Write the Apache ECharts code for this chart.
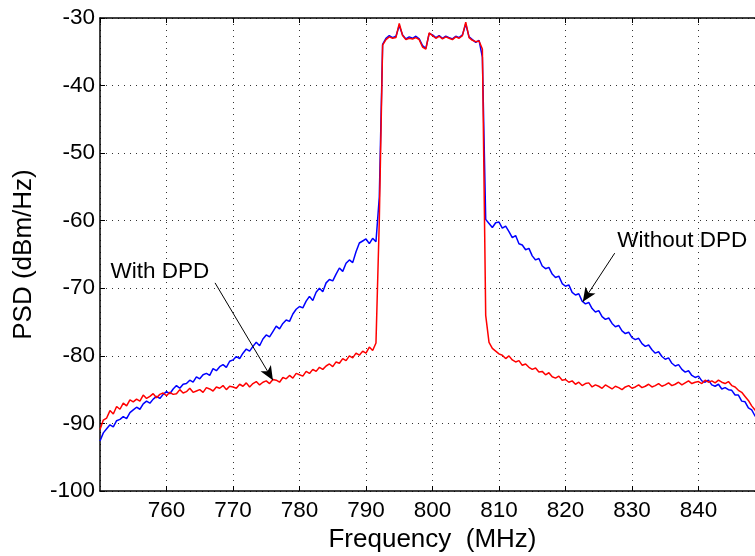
<!DOCTYPE html>
<html>
<head>
<meta charset="utf-8">
<title>PSD with and without DPD</title>
<script src="https://cdn.jsdelivr.net/npm/echarts@6/dist/echarts.min.js"></script>
<style>
  html, body { margin: 0; padding: 0; background: #fff; }
  #chart { width: 755px; height: 556px; }
</style>
</head>
<body>
<div id="chart"></div>
<script>
// Frequency sampling of the measured spectra (MHz)
const FREQ_START = 750;
const FREQ_STEP = 0.5;

// Axis ranges
const X_MIN = 750, X_MAX = 850, X_INTERVAL = 10;
const Y_MIN = -100, Y_MAX = -30, Y_INTERVAL = 10;

// PSD without digital predistortion (dBm/Hz), one value per FREQ_STEP from 750 to 850 MHz
const withoutDpd = [
  -92.6, -91.4, -90.8, -90.2, -90.5, -89.6, -89.4, -89.0, -89.3, -88.4,
  -88.0, -87.6, -87.9, -87.1, -86.7, -87.0, -86.4, -86.0, -86.3, -85.7,
  -85.3, -85.6, -84.9, -84.4, -84.8, -84.2, -84.1, -83.6, -83.9, -83.1,
  -83.4, -82.8, -82.6, -82.9, -81.9, -82.2, -81.6, -81.3, -81.7, -80.8,
  -80.6, -80.1, -80.4, -79.6, -79.0, -79.3, -78.6, -78.0, -78.5, -77.5,
  -76.9, -77.2, -76.4, -75.6, -76.0, -75.2, -74.7, -74.9, -73.8, -73.1,
  -72.7, -72.9, -71.9, -71.2, -71.8, -70.6, -70.0, -70.5, -69.2, -68.7,
  -68.9, -67.9, -67.0, -67.5, -66.3, -65.8, -66.2, -64.6, -63.3, -63.0,
  -62.7, -63.4, -62.6, -63.1, -56.5, -33.9, -33.0, -32.6, -32.9, -32.7,
  -31.1, -32.5, -33.1, -32.8, -33.0, -32.7, -33.1, -34.1, -34.5, -32.3,
  -32.5, -32.9, -32.6, -33.0, -32.7, -32.9, -33.1, -32.7, -32.9, -32.5,
  -30.9, -32.8, -33.2, -33.6, -33.3, -35.8, -59.8, -60.4, -61.0, -60.3,
  -60.2, -61.1, -60.8, -61.6, -62.5, -62.2, -63.4, -63.6, -64.3, -64.1,
  -65.2, -65.8, -65.6, -66.7, -67.1, -66.9, -67.9, -68.4, -68.2, -69.3,
  -69.7, -69.5, -70.6, -71.0, -70.8, -71.9, -72.3, -72.1, -73.0, -73.5,
  -73.3, -74.2, -74.6, -74.4, -75.2, -75.7, -75.5, -76.3, -76.7, -76.5,
  -77.3, -77.6, -77.4, -78.2, -78.6, -78.4, -79.1, -79.6, -79.4, -80.1,
  -80.5, -80.3, -81.1, -81.5, -81.3, -82.0, -82.4, -82.2, -82.9, -83.2,
  -83.0, -83.7, -83.9, -83.6, -84.3, -84.5, -84.2, -84.9, -84.7, -85.0,
  -85.1, -85.8, -85.8, -86.7, -86.8, -87.7, -88.0, -88.9, -89.2, -90.1,
  -90.6
];

// PSD with digital predistortion (dBm/Hz), same frequency sampling
const withDpd = [
  -90.9, -89.5, -89.2, -88.1, -88.6, -87.5, -87.9, -87.0, -87.4, -86.5,
  -86.8, -86.4, -86.7, -85.8, -86.3, -86.0, -85.6, -86.2, -85.7, -85.5,
  -85.9, -85.4, -85.7, -85.6, -85.0, -85.5, -85.3, -84.8, -85.4, -85.2,
  -85.0, -85.4, -84.7, -84.9, -85.2, -84.6, -84.8, -84.4, -85.0, -84.5,
  -84.6, -84.8, -84.2, -84.5, -84.0, -84.6, -84.1, -83.8, -84.3, -83.9,
  -83.7, -84.1, -83.5, -83.6, -83.9, -83.2, -83.4, -82.9, -83.3, -82.6,
  -82.8, -83.0, -82.3, -82.6, -82.0, -82.3, -81.7, -82.0, -81.5, -81.2,
  -81.6, -80.9, -81.1, -80.4, -80.7, -80.0, -80.3, -79.6, -79.9, -79.3,
  -79.6, -78.7, -79.2, -78.1, -60.0, -34.0, -33.2, -32.8, -33.0, -32.9,
  -30.8, -32.6, -33.2, -33.0, -33.1, -32.9, -33.2, -34.3, -34.6, -32.2,
  -32.6, -33.0, -32.7, -33.1, -32.8, -33.0, -33.2, -32.8, -33.0, -32.6,
  -30.6, -32.9, -33.3, -33.5, -33.4, -34.6, -74.0, -78.0, -78.9, -79.3,
  -79.7, -79.9, -80.4, -80.0, -80.6, -80.9, -80.7, -81.4, -81.2, -81.7,
  -82.0, -81.8, -82.4, -82.3, -82.8, -82.5, -83.1, -83.3, -83.0, -83.6,
  -83.5, -83.9, -83.7, -84.2, -83.9, -84.4, -84.1, -84.0, -84.6, -84.3,
  -84.5, -84.8, -84.3, -84.6, -84.9, -84.5, -84.7, -85.0, -84.6, -84.4,
  -84.8, -84.6, -84.3, -84.7, -84.5, -84.2, -84.6, -84.4, -84.1, -84.5,
  -84.3, -84.0, -84.4, -84.2, -83.9, -84.3, -84.0, -83.7, -84.1, -83.9,
  -83.8, -84.1, -83.6, -83.9, -83.7, -84.0, -83.6, -83.9, -84.1, -83.8,
  -84.4, -84.6, -85.1, -85.4, -86.0, -86.6, -87.4, -88.0, -88.9, -89.5,
  -90.2
];

// Annotation text anchors and arrows, in data coordinates [MHz, dBm/Hz]
const withDpdLabel = { text: 'With DPD', at: [751.5, -67.6] };
const withDpdArrow = [[767.3, -69.2], [776.0, -83.6]];
const withoutDpdLabel = { text: 'Without DPD', at: [827.7, -62.9] };
const withoutDpdArrow = [[827.4, -64.8], [822.6, -72.0]];

const FONT = '"Liberation Sans", Arial, Helvetica, sans-serif';
const TICK_SIZE = 22.5;
const NOTE_SIZE = 22.5;
const XNAME_SIZE = 26;
const YNAME_SIZE = 26;

function toPairs(values) {
  return values.map((v, i) => [FREQ_START + i * FREQ_STEP, v]);
}

const gridDots = { color: '#333', width: 1, type: [1, 5] };
const blackLine = { color: '#000', width: 1.5 };

const chart = echarts.init(document.getElementById('chart'), null, { renderer: 'canvas' });

function textPoint(lbl) {
  return {
    coord: lbl.at,
    symbol: 'circle',
    symbolSize: 1,
    itemStyle: { color: 'rgba(0,0,0,0)' },
    label: {
      show: true,
      position: 'right',
      distance: 0,
      formatter: lbl.text,
      color: '#000',
      fontSize: NOTE_SIZE,
      fontFamily: FONT
    }
  };
}

function arrow(seg) {
  return [{ coord: seg[0] }, { coord: seg[1] }];
}

chart.setOption({
  animation: false,
  backgroundColor: '#fff',
  // the plot box runs past the right edge of the canvas
  grid: { left: 100, right: -10, top: 18, bottom: 65, containLabel: false, outerBoundsMode: 'none' },
  xAxis: [
    {
      type: 'value',
      position: 'bottom',
      min: X_MIN, max: X_MAX, interval: X_INTERVAL,
      axisLine: { show: true, onZero: false, lineStyle: blackLine },
      axisTick: { show: true, inside: true, length: 5, lineStyle: { color: '#000', width: 1 } },
      axisLabel: { color: '#000', fontSize: TICK_SIZE, fontFamily: FONT, margin: 8, showMinLabel: false, showMaxLabel: false },
      splitLine: { show: true, lineStyle: gridDots },
      name: 'Frequency  (MHz)',
      nameLocation: 'middle',
      nameGap: 35,
      nameTextStyle: { color: '#000', fontSize: XNAME_SIZE, fontFamily: FONT }
    },
    {
      type: 'value',
      position: 'top',
      min: X_MIN, max: X_MAX, interval: X_INTERVAL,
      axisLine: { show: true, onZero: false, lineStyle: blackLine },
      axisTick: { show: true, inside: true, length: 5, lineStyle: { color: '#000', width: 1 } },
      axisLabel: { show: false },
      splitLine: { show: false }
    }
  ],
  yAxis: [
    {
      type: 'value',
      min: Y_MIN, max: Y_MAX, interval: Y_INTERVAL,
      axisLine: { show: true, onZero: false, lineStyle: blackLine },
      axisTick: { show: true, inside: true, length: 5, lineStyle: { color: '#000', width: 1 } },
      axisLabel: { color: '#000', fontSize: TICK_SIZE, fontFamily: FONT, margin: 5 },
      splitLine: { show: true, lineStyle: gridDots },
      name: 'PSD (dBm/Hz)',
      nameLocation: 'middle',
      nameGap: 63,
      nameRotate: 90,
      nameTextStyle: { color: '#000', fontSize: YNAME_SIZE, fontFamily: FONT }
    }
  ],
  series: [
    {
      name: 'Without DPD',
      type: 'line',
      xAxisIndex: 0,
      data: toPairs(withoutDpd),
      symbol: 'none',
      lineStyle: { color: '#0000ff', width: 1.5 },
      z: 2,
      markLine: {
        silent: true,
        symbol: ['none', 'arrow'],
        symbolSize: [9, 14],
        label: { show: false },
        lineStyle: { color: '#000', width: 1, type: 'solid' },
        data: [arrow(withoutDpdArrow)]
      },
      markPoint: { silent: true, data: [textPoint(withoutDpdLabel)] }
    },
    {
      name: 'With DPD',
      type: 'line',
      xAxisIndex: 0,
      data: toPairs(withDpd),
      symbol: 'none',
      lineStyle: { color: '#ff0000', width: 1.5 },
      z: 3,
      markLine: {
        silent: true,
        symbol: ['none', 'arrow'],
        symbolSize: [9, 14],
        label: { show: false },
        lineStyle: { color: '#000', width: 1, type: 'solid' },
        data: [arrow(withDpdArrow)]
      },
      markPoint: { silent: true, data: [textPoint(withDpdLabel)] }
    }
  ]
});
</script>
</body>
</html>
